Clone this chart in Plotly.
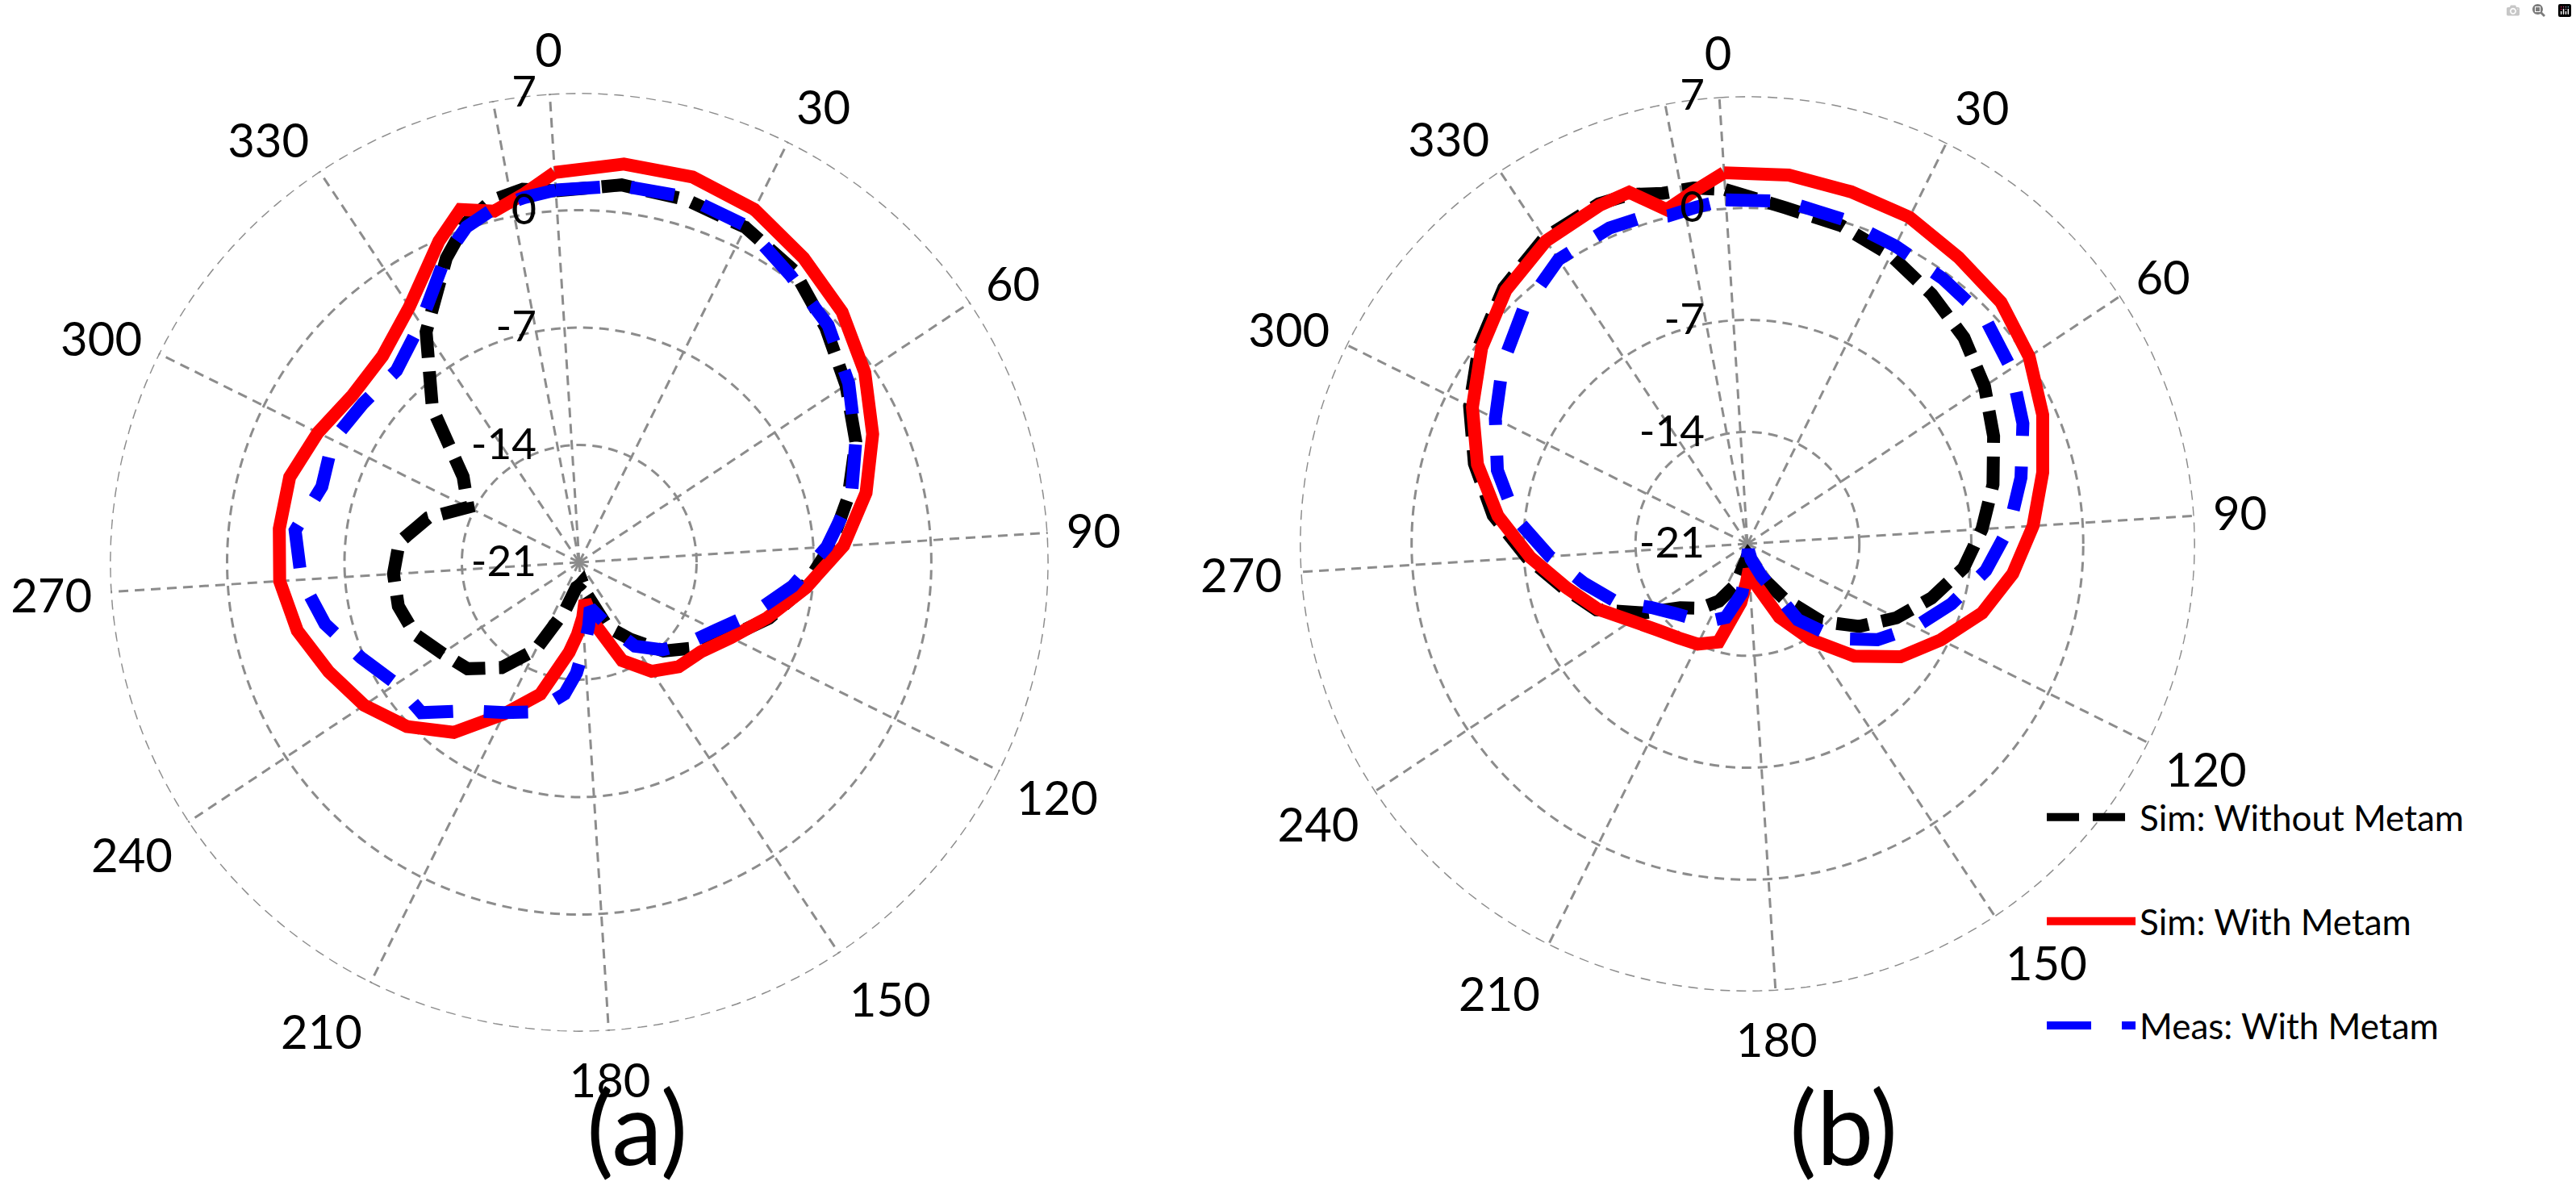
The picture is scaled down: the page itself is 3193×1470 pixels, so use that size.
import plotly.graph_objects as go

theta = [0, 10, 20, 30, 40, 50, 60, 70, 80, 90, 100, 110, 120, 130, 140, 150, 160, 170,
         175, 180, 185, 190, 200, 210, 220, 230, 240, 250, 260, 270, 280, 290, 300, 310,
         320, 330, 340, 345, 350, 355]

# (a)
a_sim_without = [1.2, 1.65, 1.55, 1.3, 0.6, -0.7, -1.9, -3.0, -4.5, -6.0, -7.5, -9.2, -11.0, -12.4,
                 -13.7, -15.5, -16.8, -19.0, -19.8, -19.7, -19.6, -19.5, -18.0, -15.2, -13.2, -11.8,
                 -11.2, -10.3, -9.9, -9.9, -10.2, -11.6, -13.6, -12.4, -8.3, -4.5, -1.2, 0.3, 1.2, 1.5]
a_sim_with = [2.3, 2.9, 2.95, 2.5, 1.55, 0.65, -0.55, -1.9, -3.4, -5.2, -7.4, -9.3, -10.9, -12.0,
              -12.4, -13.2, -14.6, -17.3, -18.7, -17.7, -16.7, -15.6, -12.8, -10.9, -8.4, -6.8,
              -5.6, -4.7, -3.7, -3.1, -3.0, -3.0, -3.6, -4.2, -4.0, -2.7, -0.1, 1.2, 0.55, 1.2]
a_meas_with = [1.25, 1.6, 1.7, 1.4, 0.25, -0.5, -1.7, -3.0, -4.3, -6.2, -8.2, -10.2, -11.9, -12.9,
               -13.8, -15.0, -17.0, -18.2, -17.2, -16.0, -14.4, -13.1, -11.7, -11.0, -10.0, -8.0,
               -7.9, -6.8, -5.4, -4.4, -3.95, -5.0, -4.6, -5.0, -5.2, -3.9, -1.1, 0.1, 0.7, 1.0]

# (b)
b_sim_without = [1.2, 0.15, -0.25, -0.85, -1.6, -2.3, -3.2, -4.2, -5.2, -6.3, -7.4, -9.0, -10.6, -12.3,
                 -14.3, -16.9, -18.7, -19.8, -20.2, -20.3, -20.2, -19.9, -18.3, -17.0, -16.0, -15.2,
                 -13.2, -10.7, -9.2, -7.2, -5.0, -3.2, -1.6, -0.15, 1.1, 1.95, 2.2, 2.05, 1.55, 1.5]
b_sim_with = [2.25, 2.2, 1.95, 1.8, 1.25, 0.9, 0.15, -0.85, -2.0, -3.1, -4.3, -5.7, -7.5, -9.1,
              -11.3, -13.8, -16.0, -18.2, -18.9, -19.4, -18.6, -17.3, -14.6, -14.0, -13.7, -13.2,
              -12.3, -10.8, -9.35, -7.4, -5.3, -3.4, -1.8, -0.35, 0.9, 1.75, 2.1, 2.2, 0.5, 1.3]
b_meas_with = [0.55, 0.55, 0.15, -0.2, -0.4, -0.5, -1.2, -2.2, -3.4, -4.6, -6.0, -7.7, -9.3, -10.9,
               -12.8, -15.3, -18.8, -20.0, -20.6, -20.5, -19.5, -17.9, -16.2, -15.6, -15.2, -14.7,
               -13.8, -12.0, -10.5, -8.6, -6.4, -4.7, -3.4, -2.0, -0.7, 0.35, 0.55, 0.45, 0.1, 0.3]

names = ["Sim: Without Metam", "Sim: With Metam", "Meas: With Metam"]
colors = ["#000000", "#ff0000", "#0000ff"]
dashes = ["40px,17px", "solid", "55px,38px"]

angle_ticks = list(range(0, 360, 30))
radial_ticks = [-21, -14, -7, 0, 7]
radial_labels = [str(v) for v in radial_ticks]

FONT = "Lato"
GRID = "#8c8c8c"
GRID_DASH = "12px,8px"
ROT = 93.6

fig = go.Figure()

panels = [("polar", [a_sim_without, a_sim_with, a_meas_with]),
          ("polar2", [b_sim_without, b_sim_with, b_meas_with])]

ring_theta = list(range(0, 361, 2))

for sub, series in panels:
    # outer dashed ring (plotly skips the gridline at the range edge)
    fig.add_trace(go.Scatterpolar(
        r=[radial_ticks[-1]] * len(ring_theta), theta=ring_theta, mode="lines",
        line=dict(color=GRID, width=3, dash=GRID_DASH),
        showlegend=False, hoverinfo="skip", subplot=sub))
    # extra dashed spoke beside the 0 line
    fig.add_trace(go.Scatterpolar(
        r=[radial_ticks[0], radial_ticks[-1]], theta=[353, 353], mode="lines",
        line=dict(color=GRID, width=3, dash=GRID_DASH),
        showlegend=False, hoverinfo="skip", subplot=sub))
    for i, vals in enumerate(series):
        fig.add_trace(go.Scatterpolar(
            r=vals + vals[:1], theta=theta + [360], mode="lines",
            name=names[i], legendgroup=names[i],
            line=dict(color=colors[i], width=16, dash=dashes[i]),
            showlegend=(sub == "polar2"), subplot=sub))

polar_common = dict(
    bgcolor="white",
    radialaxis=dict(range=[-21, 7], tickvals=radial_ticks, ticktext=radial_labels,
                    showline=False, ticks="outside", ticklen=34,
                    tickcolor="rgba(0,0,0,0)",
                    angle=90, side="counterclockwise", tickangle=90,
                    gridcolor=GRID, gridwidth=3, griddash=GRID_DASH,
                    tickfont=dict(family=FONT, size=53, color="black")),
    angularaxis=dict(direction="clockwise", rotation=ROT, tickvals=angle_ticks,
                     showline=False, ticks="outside", ticklen=11,
                     tickcolor="rgba(0,0,0,0)",
                     gridcolor=GRID, gridwidth=3, griddash=GRID_DASH,
                     tickfont=dict(family=FONT, size=58, color="black")),
)

fig.update_layout(
    width=3193, height=1470, autosize=False,
    margin=dict(l=0, r=0, t=0, b=0),
    paper_bgcolor="white",
    polar=dict(domain=dict(x=[0.0426, 0.4071], y=[0.1299, 0.9218]), **polar_common),
    polar2=dict(domain=dict(x=[0.5045, 0.8522], y=[0.1639, 0.9190]), **polar_common),
    legend=dict(x=0.793, y=0.335, xanchor="left", yanchor="top",
                font=dict(family=FONT, size=44, color="black"),
                itemwidth=110, tracegroupgap=69, traceorder="grouped",
                bgcolor="rgba(0,0,0,0)"),
    annotations=[
        dict(text="(a)", x=0.2474, y=0.051, xref="paper", yref="paper",
             xanchor="center", yanchor="middle", showarrow=False,
             font=dict(family=FONT, size=126, color="black")),
        dict(text="(b)", x=0.7156, y=0.051, xref="paper", yref="paper",
             xanchor="center", yanchor="middle", showarrow=False,
             font=dict(family=FONT, size=126, color="black")),
    ],
)

fig.write_html("out.html", post_script="document.body.style.margin='0';")
